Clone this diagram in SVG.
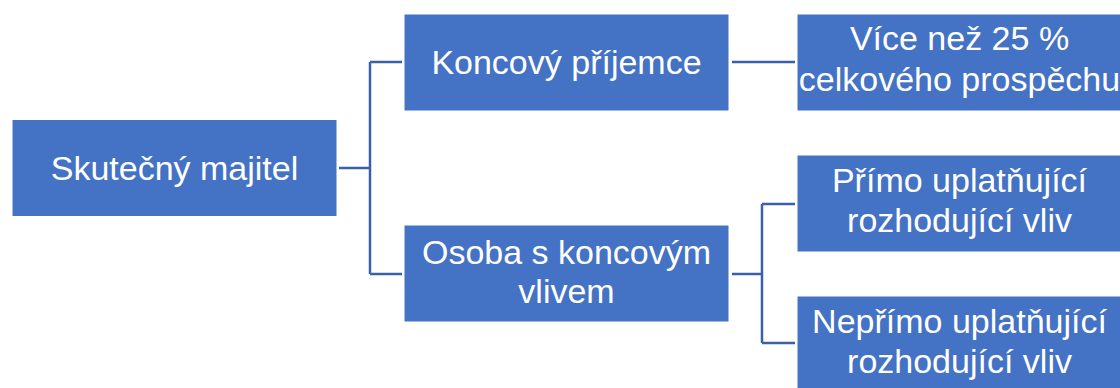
<svg xmlns="http://www.w3.org/2000/svg" width="1120" height="388" viewBox="0 0 1120 388">
  <style>
    .box { fill: #4472C4; stroke: #ffffff; stroke-width: 1; }
    .lbl { font-family: "Liberation Sans", Arial, sans-serif; font-size: 34px; fill: #ffffff; text-anchor: middle; }
    .conn { fill: none; stroke: #3A61A7; stroke-width: 2.5; }
  </style>
  <rect x="0" y="0" width="1120" height="388" fill="#ffffff"/>
  <g id="connectors">
    <path class="conn" d="M339,168 H370 M370,62 V274 M370,62 H402 M370,274 H402"/>
    <path class="conn" d="M732,62 H795"/>
    <path class="conn" d="M732,274 H762 M762,204 V343 M762,204 H795 M762,343 H795"/>
  </g>
  <g id="node-skutecny-majitel">
    <rect class="box" x="12" y="119.5" width="325" height="97"/>
    <text class="lbl" x="174.5" y="180">Skutečný majitel</text>
  </g>
  <g id="node-koncovy-prijemce">
    <rect class="box" x="404" y="14" width="325" height="97"/>
    <text class="lbl" x="566.5" y="73.5">Koncový příjemce</text>
  </g>
  <g id="node-osoba-s-koncovym-vlivem">
    <rect class="box" x="404" y="225" width="325" height="97"/>
    <text class="lbl" x="566.5" y="264">Osoba s koncovým</text>
    <text class="lbl" x="566.5" y="303">vlivem</text>
  </g>
  <g id="node-vice-nez-25">
    <rect class="box" x="797" y="14" width="325" height="97"/>
    <text class="lbl" x="959.5" y="50">Více než 25 %</text>
    <text class="lbl" x="959.5" y="91">celkového prospěchu</text>
  </g>
  <g id="node-primo">
    <rect class="box" x="797" y="155" width="325" height="97"/>
    <text class="lbl" x="959.5" y="192">Přímo uplatňující</text>
    <text class="lbl" x="959.5" y="232">rozhodující vliv</text>
  </g>
  <g id="node-neprimo">
    <rect class="box" x="797" y="296" width="325" height="97"/>
    <text class="lbl" x="959.5" y="333">Nepřímo uplatňující</text>
    <text class="lbl" x="959.5" y="373">rozhodující vliv</text>
  </g>
</svg>
